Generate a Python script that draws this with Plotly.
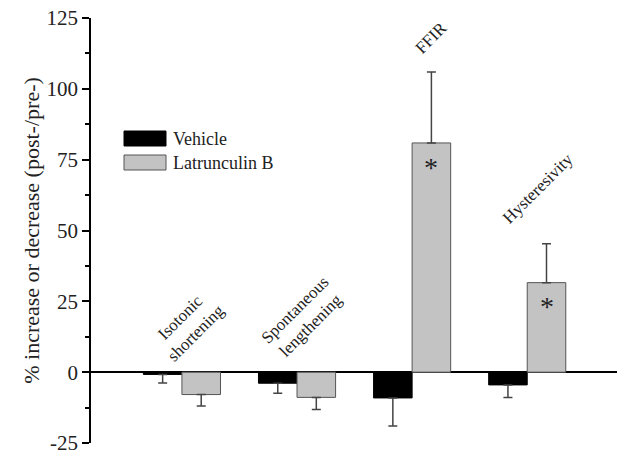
import plotly.graph_objects as go

categories = ["Isotonic<br>shortening", "Spontaneous<br>lengthening", "FFIR", "Hysteresivity"]
cat_pos = [0, 1, 2, 3]
vehicle = [-0.8, -3.9, -9.1, -4.5]
vehicle_err = [3.0, 3.5, 9.9, 4.4]
latrunculin = [-7.9, -8.9, 80.9, 31.6]
latrunculin_err = [4.0, 4.3, 25.0, 13.7]
series_names = ["Vehicle", "Latrunculin B"]
y_ticks = [-25, 0, 25, 50, 75, 100, 125]
y_tick_labels = ["-25", "0", "25", "50", "75", "100", "125"]

FONT = "Liberation Serif, Times New Roman, serif"

def errs(vals, err):
    up = [e if v >= 0 else 0 for v, e in zip(vals, err)]
    down = [e if v < 0 else 0 for v, e in zip(vals, err)]
    return up, down

fig = go.Figure()
vu, vd = errs(vehicle, vehicle_err)
lu, ld = errs(latrunculin, latrunculin_err)
fig.add_trace(go.Bar(
    x=cat_pos, y=vehicle, name=series_names[0],
    marker=dict(color="#000000", line=dict(color="#000000", width=1)),
    error_y=dict(type="data", symmetric=False, array=vu, arrayminus=vd,
                 color="#444444", thickness=1.5, width=4.5),
    showlegend=False,
))
fig.add_trace(go.Bar(
    x=cat_pos, y=latrunculin, name=series_names[1],
    marker=dict(color="#c3c3c3", line=dict(color="#555555", width=1)),
    error_y=dict(type="data", symmetric=False, array=lu, arrayminus=ld,
                 color="#444444", thickness=1.5, width=4.5),
    showlegend=False,
))

# category labels (rotated)
label_pos = [(0.05, 16.5), (1.05, 19.4), (2.17, 118.0), (3.09, 65.0)]
for text, (lx, ly) in zip(categories, label_pos):
    fig.add_annotation(x=lx, y=ly, xref="x", yref="y", text=text, textangle=-45,
                       showarrow=False, align="center",
                       font=dict(family=FONT, size=17, color="#222222"))

# significance asterisks
for i, (v, lab) in enumerate(zip(latrunculin, categories)):
    if v > 20:
        fig.add_annotation(x=cat_pos[i] + 0.1675, y=v - 8.5, xref="x", yref="y",
                           text="*", showarrow=False,
                           font=dict(family=FONT, size=28, color="#222222"))

# legend drawn manually
L, R, T, B = 91, 1, 18, 11
W, H = 618 - L - R, 454 - T - B
def px(xp):
    return (xp - L) / W
def py(yp):
    return (454 - B - yp) / H
legend_colors = [("#000000", "#000000"), ("#c3c3c3", "#555555")]
for k, (name, (fc, lc)) in enumerate(zip(series_names, legend_colors)):
    y0 = 131 + k * 24
    fig.add_shape(type="rect", xref="paper", yref="paper",
                  x0=px(124), x1=px(166), y0=py(y0 + 15), y1=py(y0),
                  fillcolor=fc, line=dict(color=lc, width=1))
    fig.add_annotation(xref="paper", yref="paper", x=px(171), y=py(y0 + 7.5),
                       xanchor="left", yanchor="middle", text=name, showarrow=False,
                       font=dict(family=FONT, size=18, color="#222222"))

fig.update_layout(
    width=618, height=454,
    margin=dict(l=L, r=R, t=T, b=B, autoexpand=False),
    paper_bgcolor="white", plot_bgcolor="white",
    barmode="group", bargap=0.33, bargroupgap=0,
    font=dict(family=FONT, color="#222222"),
    xaxis=dict(range=[-0.79, 3.78], showticklabels=False, ticks="",
               showgrid=False, zeroline=False, showline=False, automargin=False),
    yaxis=dict(range=[-25, 125], tickvals=y_ticks, ticktext=y_tick_labels,
               ticks="outside", ticklen=7,
               tickwidth=1.5, tickcolor="#000000", automargin=False,
               ticklabeloverflow="allow",
               minor=dict(dtick=12.5, ticks="outside", ticklen=4, tickwidth=1.5,
                          tickcolor="#000000", showgrid=False),
               showgrid=False, showline=True, linecolor="#000000", linewidth=1.5,
               zeroline=True, zerolinecolor="#000000", zerolinewidth=1.5,
               tickfont=dict(family=FONT, size=21, color="#222222"),
               title=dict(text="% increase or decrease (post-/pre-)",
                          font=dict(family=FONT, size=22, color="#222222"),
                          standoff=1)),
)

fig.write_html("out.html", config={"displayModeBar": False},
               post_script="document.body.style.margin='0';document.body.style.overflow='hidden';")
